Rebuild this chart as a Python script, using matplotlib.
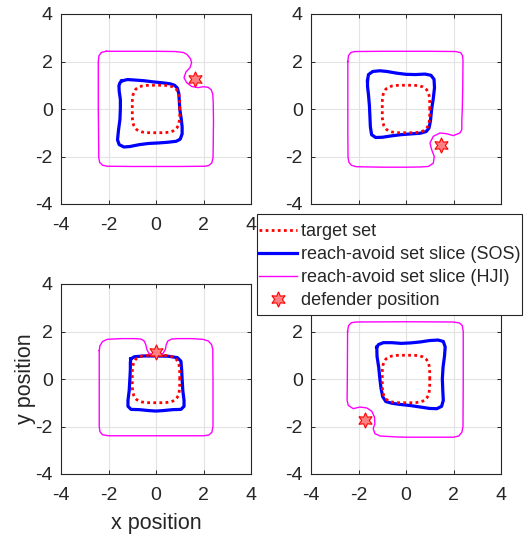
import matplotlib
matplotlib.use("Agg")
import matplotlib.pyplot as plt
from matplotlib.lines import Line2D
from matplotlib.patches import Rectangle

plt.rcParams['font.family'] = ['Liberation Sans', 'DejaVu Sans']

# ---------------- data ----------------
# target set (same in every panel)
target_x = [1.0, 0.998, 0.992, 0.969, 0.931, 0.875, 0.841, 0.802, 0.707, 0.585, 0.417, 0.295, 0.0,
            -0.295, -0.417, -0.585, -0.707, -0.802, -0.841, -0.875, -0.931, -0.969, -0.992, -0.998, -1.0,
            -0.998, -0.992, -0.969, -0.931, -0.875, -0.841, -0.802, -0.707, -0.585, -0.417, -0.295, 0.0,
            0.295, 0.417, 0.585, 0.707, 0.802, 0.841, 0.875, 0.931, 0.969, 0.992, 0.998, 1.0]
target_y = [0.0, 0.295, 0.417, 0.585, 0.707, 0.802, 0.841, 0.875, 0.931, 0.969, 0.992, 0.998, 1.0,
            0.998, 0.992, 0.969, 0.931, 0.875, 0.841, 0.802, 0.707, 0.585, 0.417, 0.295, 0.0,
            -0.295, -0.417, -0.585, -0.707, -0.802, -0.841, -0.875, -0.931, -0.969, -0.992, -0.998, -1.0,
            -0.998, -0.992, -0.969, -0.931, -0.875, -0.841, -0.802, -0.707, -0.585, -0.417, -0.295, 0.0]

# reach-avoid set slices from SOS (blue), one per panel
sos1_x = [-1.45, -1.2, -0.9, -0.5, -0.1, 0.3, 0.6, 0.78, 0.90, 0.96, 0.98, 1.0, 1.06, 1.10, 1.10, 1.02,
          0.85, 0.5, 0.1, -0.3, -0.7, -1.1, -1.35, -1.55, -1.62, -1.58, -1.52, -1.50, -1.50, -1.55,
          -1.56, -1.52, -1.45]
sos1_y = [1.18, 1.24, 1.22, 1.19, 1.14, 1.10, 1.06, 1.0, 0.88, 0.65, 0.35, 0.0, -0.4, -0.75, -1.05, -1.27,
          -1.36, -1.40, -1.43, -1.45, -1.50, -1.58, -1.60, -1.50, -1.30, -0.9, -0.45, 0.0, 0.4, 0.75,
          0.98, 1.10, 1.18]
sos2_x = [-1.62, -1.58, -1.40, -1.1, -0.8, -0.4, 0.0, 0.4, 0.8, 1.05, 1.18, 1.20, 1.15, 1.08, 1.03,
          0.97, 0.85, 0.6, 0.2, -0.2, -0.6, -1.0, -1.28, -1.45, -1.50, -1.52, -1.54, -1.58, -1.62, -1.62]
sos2_y = [1.20, 1.45, 1.58, 1.61, 1.58, 1.51, 1.46, 1.45, 1.47, 1.42, 1.25, 0.9, 0.45, 0.0, -0.5,
          -0.80, -0.95, -1.02, -1.05, -1.08, -1.13, -1.19, -1.20, -1.08, -0.75, -0.3, 0.13, 0.6, 0.95, 1.20]
sos3_x = [-1.06, -0.9, -0.5, 0.0, 0.5, 0.9, 1.05, 1.08, 1.10, 1.13, 1.18, 1.18, 1.05, 0.7, 0.3, 0.0,
          -0.3, -0.7, -1.05, -1.18, -1.18, -1.13, -1.10, -1.08, -1.08, -1.06]
sos3_y = [0.85, 0.94, 0.97, 0.97, 0.96, 0.90, 0.75, 0.4, 0.0, -0.5, -0.9, -1.15, -1.28, -1.29, -1.33,
          -1.35, -1.33, -1.29, -1.28, -1.15, -0.9, -0.5, 0.0, 0.4, 0.7, 0.85]
sos4_x = [-1.23, -1.16, -0.95, -0.6, -0.2, 0.2, 0.6, 1.0, 1.35, 1.57, 1.65, 1.62, 1.56, 1.53, 1.55,
          1.57, 1.50, 1.30, 1.0, 0.6, 0.2, -0.25, -0.6, -0.85, -0.98, -1.05, -1.10, -1.15, -1.22, -1.23]
sos4_y = [1.34, 1.45, 1.53, 1.53, 1.50, 1.52, 1.56, 1.62, 1.64, 1.58, 1.35, 0.95, 0.5, 0.0, -0.5,
          -0.90, -1.15, -1.25, -1.24, -1.18, -1.12, -1.07, -1.02, -0.95, -0.75, -0.40, 0.0, 0.5, 0.95, 1.34]

# reach-avoid set slices from HJI (magenta), one per panel
hji1_x = [-2.10, -1.0, 0.0, 0.8, 1.15, 1.30, 1.45, 1.50, 1.43, 1.26, 1.18, 1.29, 1.50, 1.78, 1.99,
          2.20, 2.33, 2.39, 2.41, 2.42, 2.41, 2.40, 2.35, 2.22, 2.05, 1.0, 0.0, -1.0, -2.05, -2.25,
          -2.37, -2.41, -2.42, -2.43, -2.43, -2.43, -2.40, -2.30, -2.10]
hji1_y = [2.43, 2.43, 2.43, 2.42, 2.38, 2.30, 2.12, 1.95, 1.74, 1.56, 1.32, 1.11, 0.95, 0.90, 0.94,
          0.91, 0.80, 0.62, 0.26, -0.5, -1.5, -2.05, -2.27, -2.38, -2.41, -2.42, -2.42, -2.42, -2.41,
          -2.37, -2.25, -2.05, -1.0, 0.0, 1.0, 2.0, 2.25, 2.38, 2.43]
hji2_x = [-2.45, -2.42, -2.32, -2.15, -1.0, 0.0, 1.0, 2.1, 2.30, 2.38, 2.40, 2.39, 2.37, 2.35, 2.35,
          2.27, 1.99, 1.71, 1.43, 1.15, 1.01, 1.08, 1.19, 1.15, 0.94, 0.6, 0.0, -1.0, -2.1, -2.30,
          -2.40, -2.44, -2.45, -2.45, -2.45, -2.45]
hji2_y = [2.0, 2.25, 2.38, 2.42, 2.43, 2.43, 2.43, 2.42, 2.37, 2.25, 2.05, 1.0, 0.0, -0.5, -0.87,
          -1.01, -1.12, -1.04, -1.01, -1.15, -1.43, -1.71, -2.0, -2.28, -2.42, -2.44, -2.45, -2.45,
          -2.43, -2.37, -2.25, -2.05, -1.0, 0.0, 1.0, 2.0]
hji3_x = [-2.39, -2.36, -2.25, -2.05, -1.5, -0.9, -0.62, -0.50, -0.43, -0.39, -0.30, -0.15, 0.0, 0.15,
          0.30, 0.40, 0.43, 0.50, 0.65, 0.9, 1.5, 1.98, 2.2, 2.34, 2.39, 2.40, 2.40, 2.40, 2.35, 2.22,
          2.0, 0.0, -2.0, -2.25, -2.36, -2.39, -2.39, -2.39]
hji3_y = [1.20, 1.40, 1.58, 1.67, 1.70, 1.70, 1.68, 1.60, 1.45, 1.26, 1.08, 1.02, 1.01, 1.02, 1.08,
          1.26, 1.45, 1.60, 1.68, 1.70, 1.70, 1.67, 1.60, 1.45, 1.25, 0.0, -1.0, -2.0, -2.25, -2.36,
          -2.39, -2.39, -2.39, -2.35, -2.22, -2.0, 0.0, 1.20]
hji4_x = [-2.46, -2.42, -2.30, -2.1, 0.0, 2.0, 2.25, 2.37, 2.41, 2.41, 2.40, 2.35, 2.22, 2.0, 0.0,
          -0.39, -1.09, -1.31, -1.38, -1.31, -1.33, -1.44, -1.65, -1.94, -2.22, -2.43, -2.48, -2.47,
          -2.46]
hji4_y = [2.0, 2.25, 2.37, 2.40, 2.41, 2.40, 2.36, 2.25, 2.0, 0.0, -2.0, -2.25, -2.40, -2.45, -2.45,
          -2.44, -2.40, -2.30, -2.09, -1.88, -1.60, -1.36, -1.22, -1.18, -1.25, -1.11, -0.9, 0.0, 2.0]

# defender positions
def_x = [1.66, 1.48, 0.0, -1.74]
def_y = [1.27, -1.52, 1.15, -1.71]

ticks = [-4, -2, 0, 2, 4]
labels = ['target set', 'reach-avoid set slice (SOS)', 'reach-avoid set slice (HJI)', 'defender position']

# ---------------- figure ----------------
fig = plt.figure(figsize=(5.26, 5.36), dpi=100)
W, H = 526.0, 536.0
pos = [(61, 204), (311, 204), (61, 474), (311, 474)]
sos = [(sos1_x, sos1_y), (sos2_x, sos2_y), (sos3_x, sos3_y), (sos4_x, sos4_y)]
hji = [(hji1_x, hji1_y), (hji2_x, hji2_y), (hji3_x, hji3_y), (hji4_x, hji4_y)]

TXT = '#262626'
RED = '#FF0000'
BLUE = '#0000FF'
MAG = '#FF00FF'
STAR_FC = '#FF8080'
star = (6, 1, 0)

axes = []
for i, (l, b) in enumerate(pos):
    ax = fig.add_axes([l / W, (H - b) / H, 190 / W, 190 / H])
    ax.plot(target_x, target_y, color=RED, lw=2.0, linestyle=(0, (1, 1.2)), zorder=3)
    ax.plot(sos[i][0], sos[i][1], color=BLUE, lw=2.3, zorder=2, solid_joinstyle='round')
    ax.plot(hji[i][0], hji[i][1], color=MAG, lw=1.0, zorder=2.5, solid_joinstyle='round')
    ax.plot([def_x[i]], [def_y[i]], linestyle='none', marker=star, ms=11,
            mfc=STAR_FC, mec=RED, mew=0.8, zorder=4)
    ax.set_xlim(-4, 4)
    ax.set_ylim(-4, 4)
    ax.set_xticks(ticks)
    ax.set_yticks(ticks)
    ax.set_xticklabels([str(t) for t in ticks])
    ax.set_yticklabels([str(t) for t in ticks])
    ax.grid(True, color='#E3E3E3', lw=0.8)
    ax.set_axisbelow(True)
    ax.tick_params(direction='in', length=3, width=0.7, top=True, right=True,
                   labelsize=14, colors=TXT)
    ax.tick_params(axis='x', pad=9.5)
    ax.tick_params(axis='y', pad=6)
    for s in ax.spines.values():
        s.set_color(TXT)
        s.set_linewidth(0.8)
    axes.append(ax)

axes[2].set_xlabel('x position', fontsize=15.5, color=TXT, labelpad=6)
axes[2].set_ylabel('y position', fontsize=15.5, color=TXT, labelpad=-0.5)

# legend drawn on top of everything (bottom-right axes raised above the others)
lax = axes[3]
lax.set_zorder(10)
frame = Rectangle((257 / W, (H - 315) / H), 265 / W, 101 / H, transform=fig.transFigure,
                  facecolor='white', edgecolor=TXT, lw=0.8, clip_on=False, zorder=20)
lax.add_artist(frame)

handles = [
    Line2D([], [], color=RED, lw=2.0, linestyle=(0, (1, 1.2))),
    Line2D([], [], color=BLUE, lw=2.3),
    Line2D([], [], color=MAG, lw=1.0),
    Line2D([], [], linestyle='none', marker=star, ms=11, mfc=STAR_FC, mec=RED, mew=0.8),
]
leg = lax.legend(handles, labels, loc='upper left', bbox_to_anchor=(259 / W, (H - 223.5) / H),
                 bbox_transform=fig.transFigure,
                 fontsize=13, frameon=False, borderpad=0.0, labelspacing=0.33,
                 handlelength=2.1, handletextpad=0.2, borderaxespad=0.0)
leg.set_zorder(21)
for t in leg.get_texts():
    t.set_color(TXT)

fig.savefig('out.png', dpi=100)
